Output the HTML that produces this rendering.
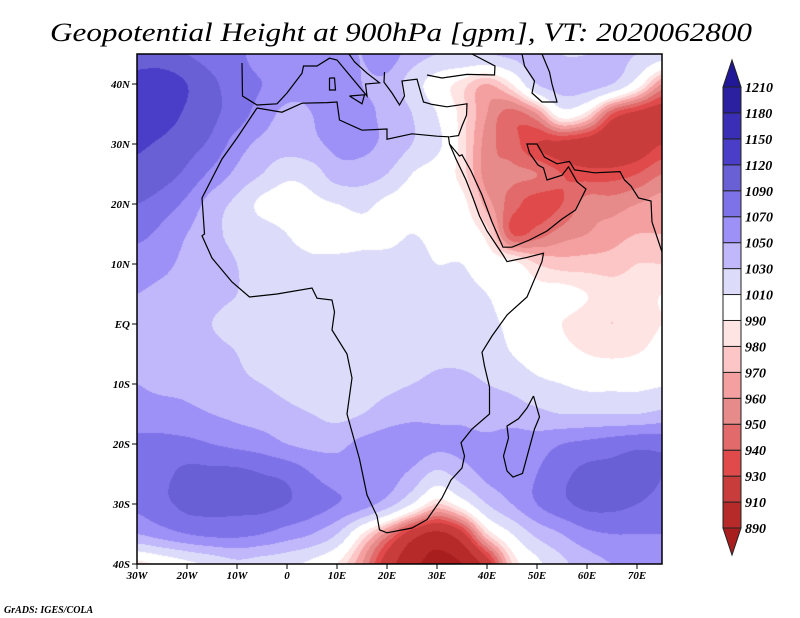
<!DOCTYPE html>
<html><head><meta charset="utf-8">
<style>
html,body{margin:0;padding:0;background:#fff;}
#wrap{position:relative;width:800px;height:618px;overflow:hidden;background:#fff;}
#field{position:absolute;left:137px;top:54px;}
#over{position:absolute;left:0;top:0;}
text{font-family:"Liberation Serif",serif;font-style:italic;}
</style></head>
<body>
<div id="wrap">
<canvas id="field" width="525" height="510"></canvas>
<svg id="over" width="800" height="618" xmlns="http://www.w3.org/2000/svg">
<text x="401" y="41" text-anchor="middle" font-size="26" textLength="702" lengthAdjust="spacingAndGlyphs">Geopotential Height at 900hPa [gpm], VT: 2020062800</text>
<g id="coast" fill="none" stroke="#000" stroke-width="1.2"></g>
<rect x="137" y="54" width="525" height="510" fill="none" stroke="#000" stroke-width="1.5"/>
<g id="axes"></g>
<g id="cbar"></g>
<text x="4" y="613" font-size="10" font-weight="bold">GrADS: IGES/COLA</text>
</svg>
</div>
<script>
// ---- data ----
const lons = [-30,-25,-20,-15,-10,-5,0,5,10,15,20,25,30,35,40,45,50,55,60,65,70,75];
const lats = [45,40,35,30,25,20,15,10,5,0,-5,-10,-15,-20,-25,-30,-35,-40];
const hgt = [
[1110,1100,1090,1080,1075,1060,1060,1060,1055,1050,1060,1040,1030,1030,1030,1035,1040,1030,1030,1035,1030,1020],
[1130,1140,1120,1095,1080,1070,1060,1055,1065,1050,1045,1020,1000,985,970,990,1030,1040,1040,1030,1000,960],
[1140,1135,1115,1095,1080,1060,1045,1050,1060,1055,1045,1030,1010,985,960,945,960,1000,985,940,925,920],
[1125,1115,1100,1085,1060,1045,1040,1045,1055,1055,1045,1030,1015,985,955,945,930,925,920,915,920,930],
[1110,1100,1085,1065,1045,1030,1015,1020,1040,1040,1030,1010,1000,985,955,952,950,940,935,935,940,950],
[1090,1080,1065,1040,1025,1005,1000,1005,1010,1015,1005,1000,1000,995,965,945,935,940,955,955,960,965],
[1075,1065,1050,1035,1025,1020,1010,1000,1000,1005,1005,1010,1005,1000,985,940,945,955,960,965,970,970],
[1060,1055,1045,1040,1030,1025,1020,1015,1015,1015,1015,1015,1010,1010,1000,995,980,975,975,975,980,980],
[1050,1045,1040,1035,1030,1025,1020,1015,1015,1015,1015,1015,1015,1015,1010,1000,995,995,990,985,985,990],
[1045,1040,1035,1030,1025,1025,1020,1015,1015,1015,1020,1020,1020,1020,1015,1005,995,990,985,980,985,990],
[1045,1040,1040,1035,1030,1020,1020,1020,1020,1020,1020,1020,1025,1025,1020,1010,1000,995,990,988,990,995],
[1050,1045,1045,1040,1035,1030,1025,1020,1020,1020,1025,1030,1035,1035,1030,1025,1015,1010,1005,1005,1005,1008],
[1060,1060,1055,1050,1045,1040,1035,1030,1025,1030,1040,1045,1045,1045,1040,1040,1035,1030,1030,1030,1030,1035],
[1075,1075,1075,1070,1065,1060,1050,1045,1045,1055,1060,1060,1055,1055,1055,1060,1060,1070,1075,1080,1085,1085],
[1080,1085,1095,1095,1095,1090,1085,1070,1060,1060,1060,1045,1025,1040,1055,1060,1070,1085,1095,1095,1095,1090],
[1075,1085,1095,1095,1095,1095,1090,1080,1070,1060,1040,1010,980,1000,1030,1050,1070,1085,1095,1095,1090,1085],
[1050,1060,1070,1075,1075,1070,1060,1050,1030,990,955,920,905,925,980,1010,1035,1050,1065,1070,1070,1070],
[985,995,1005,1015,1025,1020,1015,1005,990,960,920,895,885,890,920,980,1005,1025,1040,1050,1050,1050]
];
const levels = [890,910,930,940,950,960,970,980,990,1010,1030,1050,1070,1090,1120,1150,1180,1210];
const colors = ['#a81e1e','#b62a2a','#c83c3c','#e04a4a','#e26a6a','#e68a8a','#f5a0a0','#fcc6c6','#ffe4e4','#ffffff','#dcdcfa','#c0b8fa','#9d90f6','#7e72e8','#6a60d6','#4a3ec8','#3a2eb6','#2a20a0','#201896'];
const levelLabels = ['890','910','930','940','950','960','970','980','990','1010','1030','1050','1070','1090','1120','1150','1180','1210'];
const xTickVals = [-30,-20,-10,0,10,20,30,40,50,60,70];
const xTickLabels = ['30W','20W','10W','0','10E','20E','30E','40E','50E','60E','70E'];
const yTickVals = [40,30,20,10,0,-10,-20,-30,-40];
const yTickLabels = ['40N','30N','20N','10N','EQ','10S','20S','30S','40S'];

// ---- axis functions ----
const L=137,T=54,W=525,H=510;
const xOf = lon => L + (lon+30)*5;
const yOf = lat => T + (45-lat)*6;
const NS='http://www.w3.org/2000/svg';
function mk(tag,attrs,parent){const e=document.createElementNS(NS,tag);for(const k in attrs)e.setAttribute(k,attrs[k]);parent.appendChild(e);return e;}
function hex(c){return [parseInt(c.slice(1,3),16),parseInt(c.slice(3,5),16),parseInt(c.slice(5,7),16)];}
const rgb=colors.map(hex);
function idxFor(v){for(let i=0;i<levels.length;i++){if(v<levels[i])return i;}return levels.length;}

// ---- field (Catmull-Rom bicubic) ----
const NR=lats.length, NC=lons.length;
function g(r,c){r=Math.max(0,Math.min(NR-1,r));c=Math.max(0,Math.min(NC-1,c));return hgt[r][c];}
function cr(p0,p1,p2,p3,t){return p1+0.5*t*(p2-p0+t*(2*p0-5*p1+4*p2-p3+t*(3*(p1-p2)+p3-p0)));}
const cv=document.getElementById('field'),ctx=cv.getContext('2d');
const img=ctx.createImageData(W,H);
for(let py=0;py<H;py++){
  const lat=45-(py+0.5)/6;
  let fr=(lats[0]-lat)/5; fr=Math.max(0,Math.min(NR-1,fr));
  const r0=Math.min(Math.floor(fr),NR-2), tr=fr-r0;
  for(let px=0;px<W;px++){
    const lon=-30+(px+0.5)/5;
    let fc=(lon-lons[0])/5; fc=Math.max(0,Math.min(NC-1,fc));
    const c0=Math.min(Math.floor(fc),NC-2), tc=fc-c0;
    const rows=[];
    for(let k=-1;k<=2;k++){rows.push(cr(g(r0+k,c0-1),g(r0+k,c0),g(r0+k,c0+1),g(r0+k,c0+2),tc));}
    const v=cr(rows[0],rows[1],rows[2],rows[3],tr);
    const c=rgb[idxFor(v)],o=(py*W+px)*4;
    img.data[o]=c[0];img.data[o+1]=c[1];img.data[o+2]=c[2];img.data[o+3]=255;
  }
}
ctx.putImageData(img,0,0);

// ---- coastlines (approximate) ----
const coastLines=[
[[-6,36],[-10,31],[-13,27.5],[-17,21],[-16.5,15],[-17,14.7],[-15,11],[-13,9],[-11,7],[-7.5,4.5],[-2,5],[5,6],[6,4.3],[9,4],[9.5,2],[9,-1],[12,-5],[13,-9],[12,-15],[14.5,-22.5],[16,-28.5],[18,-32],[18.5,-34.3],[20,-34.8],[25,-34],[28,-32.6],[31,-29],[32.8,-26],[35,-24],[35.5,-22],[34.8,-19.8],[37,-17.5],[40.5,-15],[40.5,-10.5],[39.5,-7],[39,-4.7],[41,-2],[44,1.5],[48,4.5],[51,10.4],[51.3,11.8],[48,11.1],[44,10.4],[43.2,11.5],[42,13],[40,15.5],[38.5,18],[37.2,21],[35.8,24],[33.8,27.5],[32.5,30],[32.3,31.2],[30,31.3],[25,31.7],[20,30.8],[20,32.5],[15,32.3],[10.5,34],[10,37],[8,36.9],[3,36.8],[-1,35.3],[-6,36]],
[[32.5,30],[34.5,28],[35,28.2],[36.8,25.5],[39,21.5],[41,17],[43.2,12.8],[45,12.8],[48.5,14],[52,15.5],[55,17.5],[57.7,19],[59.8,22.5],[58,23.7],[56.3,26.2],[55,24.8],[52,24],[51.3,26],[50.2,26.5],[48.5,28.5],[48,30],[50,30],[51.5,27.8],[54,26.7],[56.5,27.1],[57.5,25.7],[61.5,25.2],[66.6,25.4],[67.5,24],[68.8,23],[70.3,21],[72.8,20.5],[73,17],[74,14.5],[75,12]],
[[49.3,-12],[50.5,-15.5],[49.5,-17.5],[47.1,-24.9],[45.2,-25.5],[44,-24.5],[43.3,-22],[44.3,-19],[44,-17],[46.3,-15.8],[48,-14],[49.3,-12]],
[[-9,43.5],[-8.9,38],[-6,36.5],[-2,36.7],[0,38.5],[3,41.8],[3.3,43],[6,43],[8.5,44.3],[10,44],[12.5,41.5],[16,38],[15.7,40],[18.5,40.2],[16,41.8],[13.5,43.7],[12.4,45]],
[[19.5,42],[19.4,40.3],[21,38.5],[22.5,36.5],[23.5,38],[23,40.5],[26,40.8],[26.5,39.3],[27.3,37],[29,36.6],[32,36.2],[36,36.7],[35.9,34.8],[35,33],[34.3,31.4],[32.5,31.2]],
[[28,41.5],[31,41],[36,41.6],[41.5,41.5],[41.6,43],[37,45]],
[[47,45],[47.5,43],[49.5,40.5],[49,38.5],[51,37],[54,37],[53,40],[52.5,42],[51,45]],
[[8.5,41],[9.5,41],[9.7,39],[8.5,39],[8.5,41]],
[[12.5,38],[15.5,38.2],[15,36.7],[12.5,38]]
];
const coastG=document.getElementById('coast');
coastLines.forEach((ln,i)=>{
  const d=ln.map((p,j)=>(j?'L':'M')+xOf(p[0]).toFixed(1)+','+yOf(p[1]).toFixed(1)).join('');
  const p=mk('path',{d:d},coastG);
  
  
});

// ---- axes ----
const ax=document.getElementById('axes');
xTickVals.forEach((v,i)=>{
  const x=xOf(v);
  const t=mk('line',{x1:x,x2:x,y1:T+H,y2:T+H+5,stroke:'#000','stroke-width':1},ax);
  
  
  const l=mk('text',{x:x,y:T+H+15,'font-size':11,'font-weight':'bold','text-anchor':'middle'},ax);
  l.textContent=xTickLabels[i];
  
  
});
yTickVals.forEach((v,i)=>{
  const y=yOf(v);
  const t=mk('line',{x1:L-5,x2:L,y1:y,y2:y,stroke:'#000','stroke-width':1},ax);
  
  
  const l=mk('text',{x:L-7,y:y+4,'font-size':11,'font-weight':'bold','text-anchor':'end'},ax);
  l.textContent=yTickLabels[i];
  
  
});

// ---- colorbar ----
const cb=document.getElementById('cbar');
const bx=723,bw=18,bTop=87,bBot=528,n=levels.length-1,bh=(bBot-bTop)/n;
const yLev=i=>bBot-i*bh;
for(let i=0;i<n;i++){
  const r=mk('rect',{x:bx,y:yLev(i+1),width:bw,height:bh,fill:colors[i+1],stroke:'#222','stroke-width':1},cb);
  
  
}
const tt=mk('polygon',{points:`${bx},${bTop} ${bx+bw},${bTop} ${bx+bw/2},60`,fill:colors[colors.length-1],stroke:'#222','stroke-width':1},cb);


const tb=mk('polygon',{points:`${bx},${bBot} ${bx+bw},${bBot} ${bx+bw/2},555`,fill:colors[0],stroke:'#222','stroke-width':1},cb);


levelLabels.forEach((s,i)=>{
  const l=mk('text',{x:bx+bw+4,y:yLev(i)+5,'font-size':14,'font-weight':'bold'},cb);
  l.textContent=s;
  
  
});
</script>
</body></html>
